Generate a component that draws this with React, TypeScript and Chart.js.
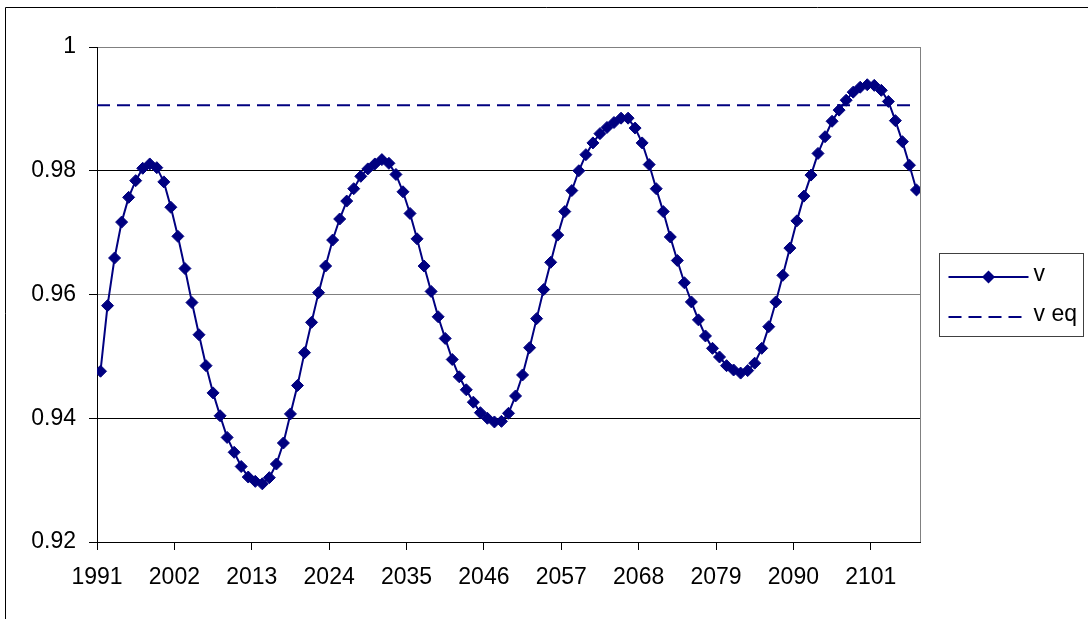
import Chart, { ChartConfiguration, Plugin } from "chart.js/auto"
import { useEffect, useRef } from "react"

// yearly values of v (one point per year, mid-year)
const firstYear = 1991.5
const v = [
	0.9476, 0.9582, 0.9659, 0.9717, 0.9757, 0.9784, 0.9804, 0.9811, 0.9805, 0.9782,
	0.9741, 0.9694, 0.9642, 0.9587, 0.9535, 0.9485, 0.9441, 0.9404, 0.9369, 0.9345,
	0.9322, 0.9305, 0.9298, 0.9294, 0.9304, 0.9326, 0.936, 0.9407, 0.9453, 0.9506,
	0.9555, 0.9603, 0.9646, 0.9688, 0.9722, 0.9751, 0.9771, 0.9791, 0.9803, 0.9811,
	0.9818, 0.9812, 0.9794, 0.9766, 0.9731, 0.969, 0.9646, 0.9605, 0.9564, 0.9529,
	0.9495, 0.9467, 0.9446, 0.9426, 0.9409, 0.94, 0.9394, 0.9395, 0.9408, 0.9436,
	0.947, 0.9514, 0.9561, 0.9608, 0.9652, 0.9696, 0.9734, 0.9768, 0.98, 0.9826,
	0.9845, 0.986, 0.987, 0.9878, 0.9885, 0.9885, 0.9869, 0.9845, 0.981, 0.9771,
	0.9734, 0.9693, 0.9655, 0.9619, 0.9588, 0.9559, 0.9533, 0.9513, 0.9499, 0.9485,
	0.9478, 0.9473, 0.9477, 0.9489, 0.9513, 0.9548, 0.9588, 0.9631, 0.9675, 0.9719,
	0.9759, 0.9793, 0.9828, 0.9855, 0.988, 0.9898, 0.9914, 0.9927, 0.9935, 0.9939,
	0.9938, 0.993, 0.9912, 0.9881, 0.9847, 0.9809, 0.9769
]
const years = v.map((_, i) => firstYear + i)
const vEq = 0.9906

const xMin = 1991
const xMax = 2108
const xTicks = [1991, 2002, 2013, 2024, 2035, 2046, 2057, 2068, 2079, 2090, 2101]
const yTicks = [0.92, 0.94, 0.96, 0.98, 1]

const NAVY = "#000080"
const FONT = "'Liberation Sans', Arial, sans-serif"
const FONT_SIZE = 23

// Excel-style legend: line sample with marker, boxed, to the right of the plot
const legendPlugin: Plugin = {
	id: "excelLegend",
	afterDraw(chart) {
		const { ctx, chartArea } = chart
		const left = chartArea.right + 19.5
		const top = 253.5
		const w = 144
		const h = 83
		ctx.save()
		ctx.strokeStyle = "#404040"
		ctx.lineWidth = 1
		ctx.strokeRect(left, top, w, h)

		const rows = [277, 317]
		chart.data.datasets.forEach((ds: any, i) => {
			const y = rows[i]
			ctx.strokeStyle = ds.borderColor
			ctx.lineWidth = ds.borderWidth
			ctx.setLineDash(ds.borderDash || [])
			ctx.beginPath()
			ctx.moveTo(left + 9, y)
			ctx.lineTo(left + 89, y)
			ctx.stroke()
			ctx.setLineDash([])
			if (ds.pointRadius > 0) {
				const cx = left + 49
				const r = 6.5
				ctx.fillStyle = ds.pointBackgroundColor
				ctx.beginPath()
				ctx.moveTo(cx, y - r)
				ctx.lineTo(cx + r, y)
				ctx.lineTo(cx, y + r)
				ctx.lineTo(cx - r, y)
				ctx.closePath()
				ctx.fill()
			}
			ctx.fillStyle = "#000"
			ctx.font = `${FONT_SIZE}px ${FONT}`
			ctx.textBaseline = "middle"
			ctx.textAlign = "left"
			ctx.fillText(ds.label, left + 94, y - 2)
		})
		ctx.restore()
	}
}

// chart frame (top/left edges) and the grey right edge of the plot area
const framePlugin: Plugin = {
	id: "frame",
	afterDraw(chart) {
		const { ctx, chartArea, width, height } = chart
		ctx.save()
		ctx.strokeStyle = "#000"
		ctx.lineWidth = 1
		ctx.beginPath()
		ctx.moveTo(5.5, height)
		ctx.lineTo(5.5, 7.5)
		ctx.lineTo(width, 7.5)
		ctx.stroke()
		ctx.strokeStyle = "#808080"
		ctx.beginPath()
		ctx.moveTo(Math.round(chartArea.right) + 0.5, chartArea.top)
		ctx.lineTo(Math.round(chartArea.right) + 0.5, chartArea.bottom)
		ctx.stroke()
		ctx.restore()
	}
}

const config: ChartConfiguration = {
	type: "line",
	data: {
		datasets: [
			{
				label: "v",
				data: v.map((y, i) => ({ x: years[i], y })),
				borderColor: NAVY,
				backgroundColor: NAVY,
				borderWidth: 2,
				pointStyle: "rectRot",
				pointRadius: 6,
				pointBackgroundColor: NAVY,
				pointBorderColor: NAVY,
				pointBorderWidth: 1,
				tension: 0
			},
			{
				label: "v eq",
				data: [
					{ x: xMin, y: vEq },
					{ x: years[years.length - 1], y: vEq }
				],
				borderColor: NAVY,
				borderWidth: 2,
				borderDash: [13, 7],
				pointRadius: 0
			}
		]
	},
	options: {
		animation: false,
		responsive: true,
		maintainAspectRatio: false,
		layout: {
			padding: { top: 47, right: 168, bottom: 0, left: 0 }
		},
		plugins: {
			legend: { display: false },
			tooltip: { enabled: false }
		},
		scales: {
			x: {
				type: "linear",
				min: xMin,
				max: xMax,
				afterFit(scale) {
					scale.height = 77
				},
				afterBuildTicks(scale) {
					scale.ticks = xTicks.map((value) => ({ value }))
				},
				border: { display: true, color: "#000", width: 1 },
				grid: {
					drawOnChartArea: false,
					drawTicks: true,
					tickLength: 8,
					tickColor: "#000"
				},
				ticks: {
					autoSkip: false,
					maxRotation: 0,
					padding: 14,
					color: "#000",
					font: { family: FONT, size: FONT_SIZE },
					callback(value) {
						return String(value)
					}
				}
			},
			y: {
				min: yTicks[0],
				max: yTicks[yTicks.length - 1],
				afterFit(scale) {
					scale.width = 97
				},
				afterBuildTicks(scale) {
					scale.ticks = yTicks.map((value) => ({ value }))
				},
				border: { display: true, color: "#000", width: 1 },
				grid: {
					color: (ctx: any) => {
						const val = ctx.tick ? ctx.tick.value : 0
						return Math.abs(val - 0.96) < 1e-6 || Math.abs(val - 1) < 1e-6 ? "#808080" : "#000"
					},
					lineWidth: 1,
					tickLength: 8,
					tickColor: "#000"
				},
				ticks: {
					padding: 13,
					color: "#000",
					font: { family: FONT, size: FONT_SIZE },
					callback(value) {
						return String(Number(Number(value).toFixed(2)))
					}
				}
			}
		}
	},
	plugins: [framePlugin, legendPlugin]
}

export default function App() {
	const canvasRef = useRef<HTMLCanvasElement>(null)

	useEffect(() => {
		const ctx = canvasRef.current?.getContext("2d") as CanvasRenderingContext2D
		const chart = new Chart(ctx, config)

		return () => {
			chart.destroy()
		}
	}, [])

	return (
		<div style={{ position: "absolute", left: 0, top: 0, width: 1088, height: 619, background: "#fff" }}>
			<canvas ref={canvasRef}>Your browser does not support the canvas element.</canvas>
		</div>
	)
}
